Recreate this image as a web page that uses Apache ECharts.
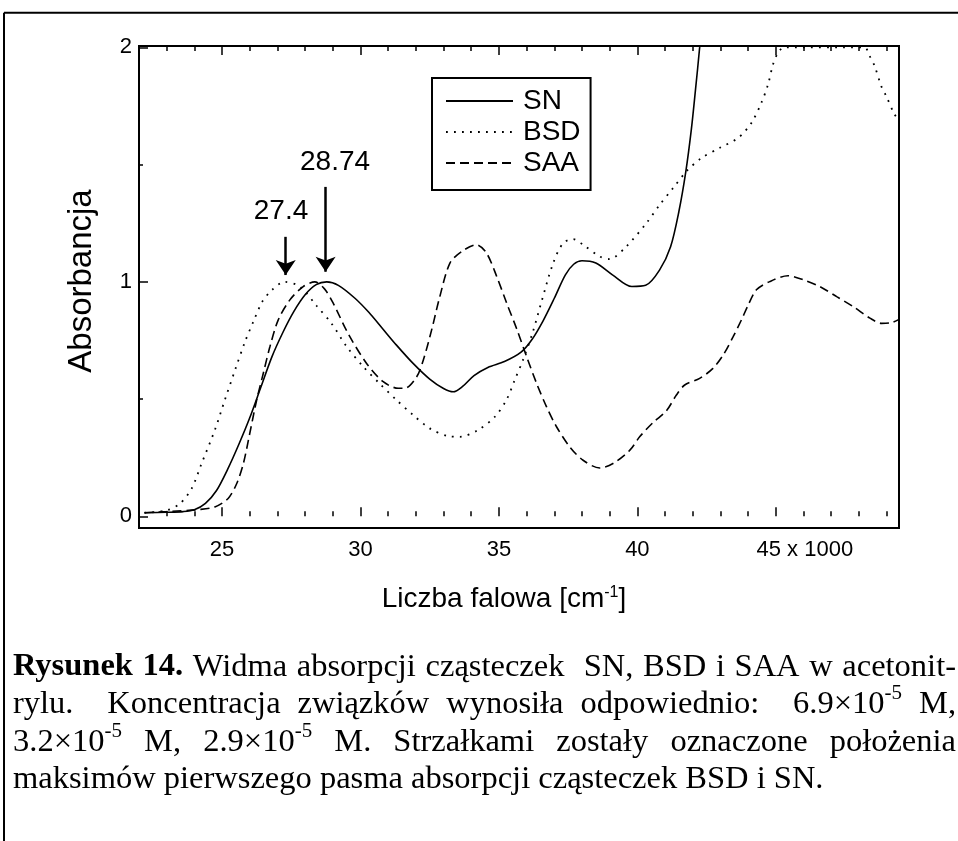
<!DOCTYPE html>
<html><head><meta charset="utf-8">
<script src="https://cdn.jsdelivr.net/npm/echarts@6/dist/echarts.min.js"></script>
<style>html,body{margin:0;padding:0;background:#fff}#c{width:958px;height:841px}</style>
</head><body><div id="c"></div>
<script>
// ---------------- data ----------------
const snWave = [22.2,23.0,23.6,24.0,24.4,24.8,25.2,25.6,26.0,26.4,26.8,27.2,27.6,28.0,28.4,28.78,29.2,29.8,30.3,30.8,31.3,31.9,32.5,33.0,33.35,33.7,34.1,34.6,35.2,35.8,36.2,36.6,37.0,37.4,37.7,38.0,38.5,39.1,39.8,40.3,40.8,41.2,41.5,41.75,41.95,42.1,42.25,42.35];
const snAbs  = [0.015,0.017,0.02,0.028,0.055,0.11,0.2,0.305,0.42,0.55,0.68,0.785,0.875,0.945,0.988,1.0,0.985,0.93,0.87,0.8,0.73,0.652,0.585,0.545,0.531,0.555,0.6,0.635,0.66,0.7,0.755,0.835,0.93,1.03,1.075,1.09,1.08,1.03,0.98,0.985,1.05,1.15,1.3,1.47,1.65,1.82,2.0,2.15];

const bsdWave = [22.2,23.0,23.48,23.9,24.26,24.74,25.1,25.47,25.83,26.13,26.45,26.8,27.25,27.81,28.42,28.95,29.5,30.1,30.7,31.3,31.9,32.5,33.17,33.59,34.25,34.85,35.27,35.57,35.87,36.23,36.55,36.96,37.32,37.68,38.04,38.64,39.0,39.6,40.33,40.81,41.29,41.77,42.31,42.97,43.64,44.12,44.48,44.72,44.9,45.08,45.3,48.2,48.39,48.57,48.81,48.99,49.29,49.45];
const bsdAbs  = [0.015,0.025,0.054,0.118,0.225,0.368,0.496,0.624,0.745,0.83,0.915,0.965,1.0,0.98,0.897,0.823,0.724,0.638,0.565,0.496,0.432,0.375,0.342,0.339,0.368,0.424,0.496,0.581,0.667,0.788,0.92,1.08,1.165,1.182,1.158,1.108,1.097,1.151,1.251,1.329,1.4,1.471,1.528,1.571,1.614,1.678,1.764,1.842,1.927,1.977,2.0,2.0,1.963,1.92,1.835,1.792,1.714,1.69];

const saaWave = [22.2,23.0,24.2,24.74,25.22,25.53,25.77,26.0,26.25,26.49,26.73,27.03,27.45,27.93,28.35,28.7,29.01,29.55,30.22,30.82,31.36,31.6,32.03,32.27,32.57,32.85,33.23,33.65,34.19,34.55,34.92,35.28,35.64,36.0,36.36,36.72,37.08,37.56,38.04,38.64,39.12,39.73,40.09,40.57,41.05,41.41,41.71,42.25,42.73,43.1,43.46,43.76,44.0,44.3,44.78,45.44,45.99,46.59,47.2,47.8,48.4,48.82,49.18,49.45];
const saaAbs  = [0.015,0.02,0.029,0.04,0.076,0.14,0.225,0.353,0.496,0.61,0.724,0.838,0.923,0.98,1.0,0.97,0.91,0.78,0.652,0.574,0.546,0.546,0.595,0.667,0.795,0.93,1.08,1.129,1.158,1.123,1.023,0.909,0.8,0.681,0.567,0.467,0.382,0.296,0.239,0.206,0.225,0.282,0.34,0.4,0.45,0.517,0.56,0.588,0.631,0.688,0.766,0.838,0.9,0.966,1.001,1.026,1.009,0.98,0.937,0.894,0.845,0.823,0.826,0.84];

const seriesNames = ['SN','BSD','SAA'];
const xMajorTicks = [25,30,35,40,45];
const xMinorTicks = [23,24,26,27,28,29,31,32,33,34,36,37,38,39,41,42,43,44,46,47,48,49];
const yMajorTicks = [0,1,2];
const yMinorTicks = [0.5,1.5];
const peakLabels = ['28.74','27.4'];
const peakWave = [28.74,27.3];

// annotation placement (data units)
const arrowTop = [1.405,1.192];
const arrowTip = [1.043,1.029];
const labelPos = [[29.08,1.512],[27.13,1.299]];

const captionLines = [
  '*Rysunek *14. Widma absorpcji cząsteczek  SN, BSD i SAA w acetonit-',
  'rylu.  Koncentracja związków wynosiła odpowiednio:  6.9×10^-5 M,',
  '3.2×10^-5 M, 2.9×10^-5 M. Strzałkami zostały oznaczone położenia',
  'maksimów pierwszego pasma absorpcji cząsteczek BSD i SN.'
];

// ---------------- helpers ----------------
const SANS = '"Liberation Sans", Arial, sans-serif';
const SERIF = '"Liberation Serif", "Times New Roman", serif';
const zip = (a,b) => a.map((v,i)=>[v,b[i]]);

function xAxisCfg(pos, ticks, len, withLabels) {
  const ax = {
    type:'value', position:pos, min:22, max:49.45, gridIndex:0,
    axisLine:{show:false}, splitLine:{show:false},
    axisTick:{show:true, inside:true, length:len, customValues:ticks, lineStyle:{color:'#000', width:1.5}},
    axisLabel:{show:false}
  };
  if (withLabels) {
    ax.axisLabel = {show:true, customValues:xMajorTicks, margin:11, color:'#000', fontFamily:SANS, fontSize:22,
      formatter: v => v === 45 ? '{a|45 x 1000}' : String(v),
      rich:{a:{fontSize:22, fontFamily:SANS, color:'#000', padding:[0,0,0,58]}}};
    ax.name = 'Liczba falowa [cm{sup|-1}]';
    ax.nameLocation = 'middle';
    ax.nameGap = 57;
    ax.nameTextStyle = {fontSize:28, fontFamily:SANS, color:'#000', padding:[0,30,0,0],
      rich:{sup:{fontSize:16, fontFamily:SANS, color:'#000', verticalAlign:'top', lineHeight:28}}};
  }
  return ax;
}
function yAxisCfg(ticks, len, withLabels) {
  const ax = {
    type:'value', position:'left', min:-0.05, max:2.006, gridIndex:0,
    axisLine:{show:false}, splitLine:{show:false},
    axisTick:{show:true, inside:true, length:len, customValues:ticks, lineStyle:{color:'#000', width:1.5}},
    axisLabel:{show:false}
  };
  if (withLabels) {
    ax.axisLabel = {show:true, customValues:yMajorTicks, margin:7, color:'#000', fontFamily:SANS, fontSize:22};
    ax.name = 'Absorbancja';
    ax.nameLocation = 'middle';
    ax.nameGap = 41;
    ax.nameTextStyle = {fontSize:33, fontFamily:SANS, color:'#000', padding:[0,0,0,12]};
  }
  return ax;
}

// caption layout (justified words)
const mctx = document.createElement('canvas').getContext('2d');
function measure(txt, size, bold, fam) {
  mctx.font = (bold ? 'bold ' : '') + size + 'px ' + fam;
  return mctx.measureText(txt).width;
}
function buildCaption() {
  const els = [];
  const size = 32.5, sup = 21, left = 13, right = 956;
  const lineY = [667, 704.5, 742, 779.5];
  captionLines.forEach((line, li) => {
    const toks = line.split(' ');
    const words = [];
    let pending = 0;
    toks.forEach(t => {
      if (t === '') { pending++; return; }
      let bold = false;
      if (t[0] === '*') { bold = true; t = t.slice(1); }
      const parts = t.split('^');
      const segs = [{text:parts[0], sup:false, bold}];
      if (parts[1]) segs.push({text:parts[1], sup:true, bold});
      segs.forEach(s => s.w = measure(s.text, s.sup ? sup : size, s.bold, SERIF));
      words.push({segs, spaces: words.length ? 1 + pending : 0, w: segs.reduce((a,s)=>a+s.w,0)});
      pending = 0;
    });
    const spaceW = measure(' ', size, false, SERIF);
    const totalSpaces = words.reduce((a,w)=>a+w.spaces,0);
    const natural = words.reduce((a,w)=>a+w.w,0) + totalSpaces*spaceW;
    const justify = li < captionLines.length - 1;
    const per = justify ? spaceW + (right - left - natural)/totalSpaces : spaceW;
    let x = left;
    words.forEach(w => {
      x += w.spaces * per;
      w.segs.forEach(s => {
        els.push({type:'text', x:x, y: s.sup ? lineY[li]-11 : lineY[li], silent:true,
          style:{text:s.text, fill:'#000', fontFamily:SERIF, fontSize: s.sup ? sup : size,
            fontWeight: s.bold ? 'bold' : 'normal', align:'left', verticalAlign:'middle'}});
        x += s.w;
      });
    });
  });
  return els;
}

// ---------------- chart ----------------
const chart = echarts.init(document.getElementById('c'), null, {renderer:'canvas'});
const lineTypes = ['solid', [1.8, 6.2], [9, 5]];
const dataSets = [zip(snWave, snAbs), zip(bsdWave, bsdAbs), zip(saaWave, saaAbs)];

const series = seriesNames.map((n, i) => ({
  name:n, type:'line', data:dataSets[i], xAxisIndex:0, yAxisIndex:0,
  showSymbol:false, symbol:'none', smooth:0.3, clip:true, animation:false,
  lineStyle:{color:'#000', width: i===1 ? 1.8 : 1.6, type: lineTypes[i]},
  itemStyle:{color:'#000'}
}));
series[0].markLine = {
  silent:true, animation:false, symbol:['none','arrow'], symbolSize:15,
  lineStyle:{color:'#000', width:2.5, type:'solid'}, label:{show:false},
  data: peakWave.map((w,i)=>[{coord:[w, arrowTop[i]]},{coord:[w, arrowTip[i]]}])
};
series[0].markPoint = {
  silent:true, animation:false, symbol:'rect', symbolSize:1, itemStyle:{color:'rgba(0,0,0,0)'},
  label:{show:true, position:'inside', formatter:'{b}', color:'#000', fontFamily:SANS, fontSize:28},
  data: peakLabels.map((l,i)=>({name:l, coord:labelPos[i]}))
};

chart.setOption({
  animation:false,
  backgroundColor:'#fff',
  grid:{left:139, top:46, right:59, bottom:313, show:true, borderColor:'#000', borderWidth:2, backgroundColor:'rgba(0,0,0,0)'},
  xAxis:[
    xAxisCfg('bottom', xMajorTicks, 9, true),
    xAxisCfg('bottom', xMinorTicks, 5, false),
    xAxisCfg('top', xMajorTicks, 9, false),
    xAxisCfg('top', xMinorTicks, 5, false)
  ],
  yAxis:[
    yAxisCfg(yMajorTicks, 9, true),
    yAxisCfg(yMinorTicks, 4, false)
  ],
  legend:{
    data:seriesNames, orient:'vertical', left:432, top:78, padding:[9,10,13,13], itemGap:3,
    itemWidth:67, itemHeight:20, backgroundColor:'#fff', borderColor:'#000', borderWidth:2, borderRadius:0,
    selectedMode:false,
    itemStyle:{color:'rgba(0,0,0,0)', borderColor:'rgba(0,0,0,0)', borderWidth:0, opacity:0},
    textStyle:{fontSize:28, fontFamily:SANS, color:'#000', lineHeight:28, padding:[0,0,0,5]}
  },
  series: series,
  graphic: [
    {type:'line', silent:true, shape:{x1:4, y1:12.7, x2:962, y2:12.7}, style:{stroke:'#000', lineWidth:2}},
    {type:'line', silent:true, shape:{x1:4, y1:12.7, x2:4, y2:845}, style:{stroke:'#000', lineWidth:2}}
  ].concat(buildCaption())
});
</script></body></html>
